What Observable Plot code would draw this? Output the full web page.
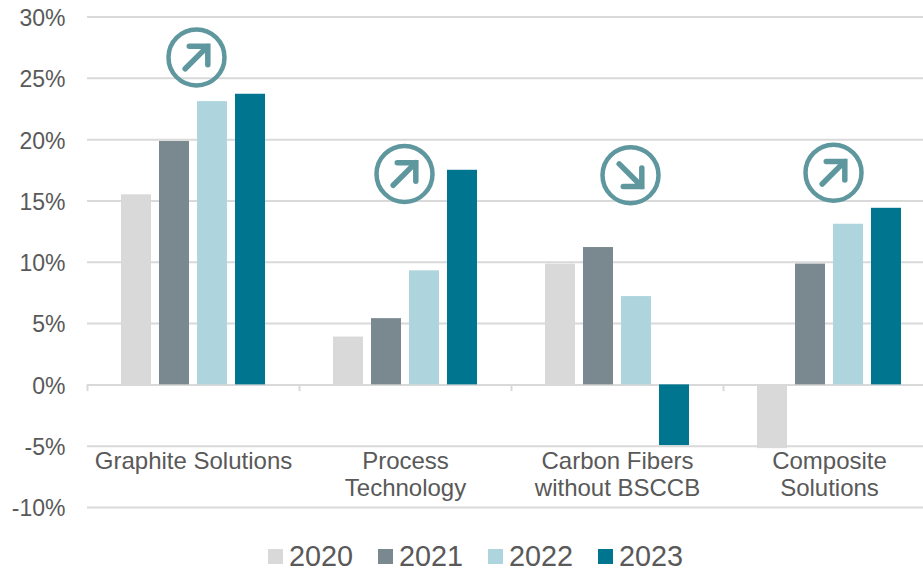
<!DOCTYPE html>
<html>
<head>
<meta charset="utf-8">
<script src="https://cdn.jsdelivr.net/npm/d3@7"></script>
<script src="https://cdn.jsdelivr.net/npm/@observablehq/plot@0.6"></script>
<style>
  html, body { margin: 0; padding: 0; background: #fff; }
  #chart svg { display: block; overflow: hidden; }
  #legend {
    display: flex; height: 24px; margin-top: 9px; align-items: center; margin-left: 268px;
    font: 28.8px/24px "Liberation Sans", Arial, sans-serif; color: #595959;
  }
  #legend .item { display: flex; align-items: center; width: 110px; }
  #legend .key { width: 15px; height: 15px; margin-right: 6px; }
</style>
</head>
<body>
<div id="chart"></div>
<div id="legend"></div>
<script>
// Return on sales by segment, in percent
const categories = ["Graphite Solutions", "Process\nTechnology", "Carbon Fibers\nwithout BSCCB", "Composite\nSolutions"];
const years = ["2020", "2021", "2022", "2023"];
const colors = ["#d9d9d9", "#7a8890", "#aed5dd", "#00758f"];
const values2020 = [15.5, 3.9, 9.85, -5.2];
const values2021 = [19.85, 5.4, 11.2, 9.85];
const values2022 = [23.1, 9.3, 7.2, 13.1];
const values2023 = [23.7, 17.5, -4.95, 14.4];
const yTicks = [-10, -5, 0, 5, 10, 15, 20, 25, 30];

// Trend badges: level on the percent axis and direction of the arrow per segment
const badgeLevels = [26.7, 17.2, 17.1, 17.3];
const badgeRotation = [45, 45, 135, 45];

// Horizontal nudge of each badge from the middle of its segment
const badgeNudge = [3, -1, 13, 4];

const series = [values2020, values2021, values2022, values2023];
const rows = categories.flatMap((category, i) =>
  years.map((year, j) => ({category, year, value: series[j][i]}))
);
const badges = categories.map((category, i) => ({
  category, level: badgeLevels[i], rotate: badgeRotation[i], nudge: badgeNudge[i]
}));

// Arrow with a round-capped shaft and a head whose wings scale with the shaft
const badgeArrow = {
  draw(context, length) {
    const wing = length * 0.41;
    context.moveTo(0, 0);
    context.lineTo(0, -length);
    context.moveTo(-wing, wing - length);
    context.lineTo(0, -length);
    context.lineTo(wing, wing - length);
  }
};

const ink = "#595959";
const gridColor = "#d9d9d9";
const badgeColor = "#5f979e";
const sans = "Liberation Sans, Arial, sans-serif";

const plot = Plot.plot({
  width: 923,
  height: 535,
  marginLeft: 87,
  marginRight: -12,
  marginTop: 16.5,
  marginBottom: 28,
  style: {fontFamily: sans, background: "#fff"},
  fx: {domain: categories, padding: 0, axis: null},
  x: {domain: years, axis: null, paddingInner: 0.217, paddingOuter: 0.87},
  y: {domain: [-10, 30], axis: null},
  color: {domain: years, range: colors},
  marks: [
    Plot.ruleY(yTicks, {stroke: gridColor, strokeWidth: 2}),
    // Segment separators hanging below the zero line
    Plot.ruleX(categories, {fx: d => d, x: () => years[0], dx: -49, y1: 0, y2: -0.55, stroke: gridColor, strokeWidth: 2}),
    Plot.barY(rows, {fx: "category", x: "year", y: "value", fill: "year"}),
    Plot.axisY({
      ticks: yTicks, tickSize: 0, tickPadding: 22, label: null, dy: 1.5,
      tickFormat: d => `${d}%`, fontSize: 23, color: ink, fill: ink
    }),
    Plot.text(categories, {
      fx: d => d, y: -5, text: d => d, dy: 4, lineAnchor: "top", lineHeight: 1.125,
      fontSize: 24, fill: ink
    }),
    ...badges.flatMap(b => [
      Plot.dot([b], {
        fx: "category", y: "level", dx: b.nudge, r: 28,
        stroke: badgeColor, strokeWidth: 4.5, fill: "none"
      }),
      Plot.vector([b], {
        fx: "category", y: "level", dx: b.nudge, rotate: "rotate", length: 32,
        anchor: "middle", shape: badgeArrow, stroke: badgeColor, strokeWidth: 5.5,
        strokeLinecap: "round", strokeLinejoin: "miter"
      })
    ])
  ]
});
document.getElementById("chart").append(plot);

// Year key below the chart
d3.select("#legend").selectAll(".item").data(years).join("div")
  .attr("class", "item")
  .call(item => item.append("span").attr("class", "key").style("background", (d, i) => colors[i]))
  .call(item => item.append("span").text(d => d));
</script>
</body>
</html>
